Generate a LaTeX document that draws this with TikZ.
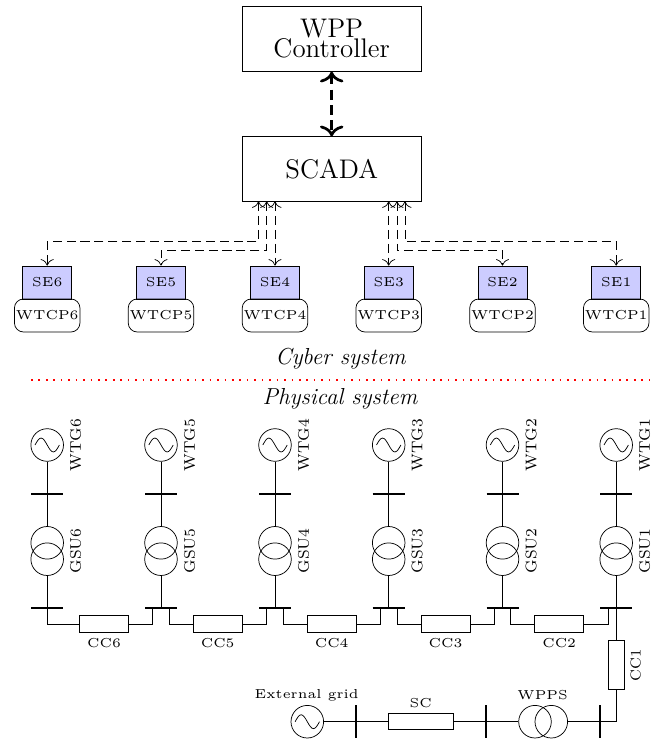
\documentclass[tikz,border=0pt]{standalone}
\usepackage{graphicx}
\usetikzlibrary{arrows.meta}
\def\u{0.5535pt}
\newcommand{\smalltxt}[1]{\scalebox{1.44}{\tiny #1}}
\newcommand{\sidetxt}[1]{\scalebox{1.22}{\scriptsize #1}}
\newcommand{\cabletxt}[1]{\scalebox{1.15}{\scriptsize #1}}
\tikzset{
  x=0.5535pt,y=-0.5535pt,
  bigbox/.style={draw,inner sep=0pt,minimum width=179*\u,minimum height=64.5*\u,font=\fontsize{14.9}{11}\selectfont,align=center},
  sebox/.style={draw,fill=blue!20,inner sep=0pt,minimum width=49*\u,minimum height=33*\u},
  wtcpbox/.style={draw,rounded corners=5pt,inner sep=0pt,minimum width=65.5*\u,minimum height=33*\u},
  comm/.style={dash pattern=on 5pt off 2.7pt,{Computer Modern Rightarrow[length=3.6pt,width=7.2pt]}-{Computer Modern Rightarrow[length=3.6pt,width=7.2pt]}},
  mainlink/.style={line width=1.5pt,dash pattern=on 5.5pt off 3pt,{Computer Modern Rightarrow[length=6pt,width=13pt]}-{Computer Modern Rightarrow[length=6pt,width=13pt]}},
  gen/.style={draw,circle,inner sep=0pt,minimum size=32.6*\u},
  trafo/.style={draw,circle,inner sep=0pt,minimum size=32.6*\u},
  busbar/.style={line width=1.1pt},
  cable/.style={draw,inner sep=0pt,minimum width=49*\u,minimum height=16.3*\u},
  lbl/.style={inner sep=0pt},
  syslbl/.style={inner sep=0pt,font=\fontsize{12.8}{14}\selectfont\itshape},
  sine/.pic={\draw (-6.75pt,0) sin (-3.4pt,3.85pt) cos (0,0) sin (3.4pt,-3.85pt) cos (6.75pt,0);}
}
\begin{document}
\begin{tikzpicture}
\useasboundingbox (0,0) rectangle (659,742);
% control level
\node[bigbox] (wpp) at (331.7,39) {WPP\\Controller};
\node[bigbox] (scada) at (331.7,169) {SCADA};
\draw[mainlink] (wpp) -- (scada);
% cyber units and per-column elements
\foreach \i/\x in {6/47.2,5/161,4/275,3/388.7,2/502.5,1/616.2}{
  \node[sebox] (se\i) at (\x,282.5) {\smalltxt{SE\i}};
  \node[wtcpbox] (wtcp\i) at (\x,315.5) {\smalltxt{WTCP\i}};
  \node[gen] (wtg\i) at (\x,445) {};
  \pic at (wtg\i) {sine};
  \node[lbl,rotate=90] (wtgl\i) at (\x+28.5,445) {\sidetxt{WTG\i}};
  \coordinate (busa\i) at (\x,494.3);
  \coordinate (busal\i) at (\x-16,494.3);
  \coordinate (busar\i) at (\x+16,494.3);
  \node[trafo] (gsua\i) at (\x,542.8) {};
  \node[trafo] (gsub\i) at (\x,559.2) {};
  \node[lbl,rotate=90] (gsul\i) at (\x+28.5,551) {\sidetxt{GSU\i}};
  \coordinate (busb\i) at (\x,608);
  \coordinate (busbl\i) at (\x-16,608);
  \coordinate (busbr\i) at (\x+16,608);
  \draw (wtg\i) -- (gsua\i);
  \draw (gsub\i) -- (busb\i);
  \draw[busbar] (busal\i) -- (busar\i);
  \draw[busbar] (busbl\i) -- (busbr\i);
}
% communication links
\coordinate (s6) at (258.5,201.3); \coordinate (s5) at (266.7,201.3); \coordinate (s4) at (275,201.3);
\coordinate (s3) at (388.7,201.3); \coordinate (s2) at (397,201.3); \coordinate (s1) at (405,201.3);
\draw[comm] (s6) |- (se6.north |- 0,241.7) -- (se6.north);
\draw[comm] (s5) |- (se5.north |- 0,250.3) -- (se5.north);
\draw[comm] (s4) -- (se4.north);
\draw[comm] (s3) -- (se3.north);
\draw[comm] (s2) |- (se2.north |- 0,250.3) -- (se2.north);
\draw[comm] (s1) |- (se1.north |- 0,241.7) -- (se1.north);
% separator
\node[syslbl] (cyber) at (340.5,359) {Cyber system};
\coordinate (sepl) at (31,380.3); \coordinate (sepr) at (649,380.3);
\draw[red,dash pattern=on 0.9pt off 3.22pt,line width=0.9pt] (sepl) -- (sepr);
\node[syslbl] (phys) at (340,399) {Physical system};
% collector cables
\foreach \i/\x in {6/104,5/217.7,4/331.7,3/445.5,2/559.2}{
  \node[cable] (cc\i) at (\x,624) {};
  \node[lbl] (ccl\i) at (\x,643.5) {\smalltxt{CC\i}};
}
\coordinate (t5l) at (152.7,608); \coordinate (t5r) at (169.3,608);
\coordinate (t4l) at (266.7,608); \coordinate (t4r) at (283.2,608);
\coordinate (t3l) at (380.3,608); \coordinate (t3r) at (397,608);
\coordinate (t2l) at (494.2,608); \coordinate (t2r) at (510.8,608);
\coordinate (t1l) at (608,608);
\draw (busb6) |- (cc6.west);
\draw (cc6.east) -| (t5l);
\draw (t5r) |- (cc5.west);
\draw (cc5.east) -| (t4l);
\draw (t4r) |- (cc4.west);
\draw (cc4.east) -| (t3l);
\draw (t3r) |- (cc3.west);
\draw (cc3.east) -| (t2l);
\draw (t2r) |- (cc2.west);
\draw (cc2.east) -| (t1l);
% main cable
\node[draw,inner sep=0pt,minimum width=16.3*\u,minimum height=49*\u] (cc1) at (616.2,665) {};
\node[lbl,rotate=90] (ccl1) at (635.7,665) {\cabletxt{CC1}};
\draw (busb1) -- (cc1.north);
% export line
\node[gen] (grid) at (307.3,721.7) {};
\pic at (grid) {sine};
\node[lbl] (gridl) at (306.7,695) {\smalltxt{External grid}};
\node[cable,minimum width=65.4*\u] (sc) at (421,721.7) {};
\node[lbl] (scl) at (420.7,703) {\smalltxt{SC}};
\node[trafo] (wa) at (535,721.7) {};
\node[trafo] (wb) at (551.3,721.7) {};
\node[lbl] (wl) at (542.7,695) {\smalltxt{WPPS}};
\foreach \n/\x in {g/356,s/486,w/600}{
  \coordinate (v\n) at (\x,721.7);
  \draw[busbar] (\x,705.4) coordinate (v\n t) -- (\x,738) coordinate (v\n b);
}
\draw (grid) -- (sc.west);
\draw (sc.east) -- (wa.west);
\draw (wb.east) -- (vw);
\draw (vw) -| (cc1.south);
\end{tikzpicture}
\end{document}
